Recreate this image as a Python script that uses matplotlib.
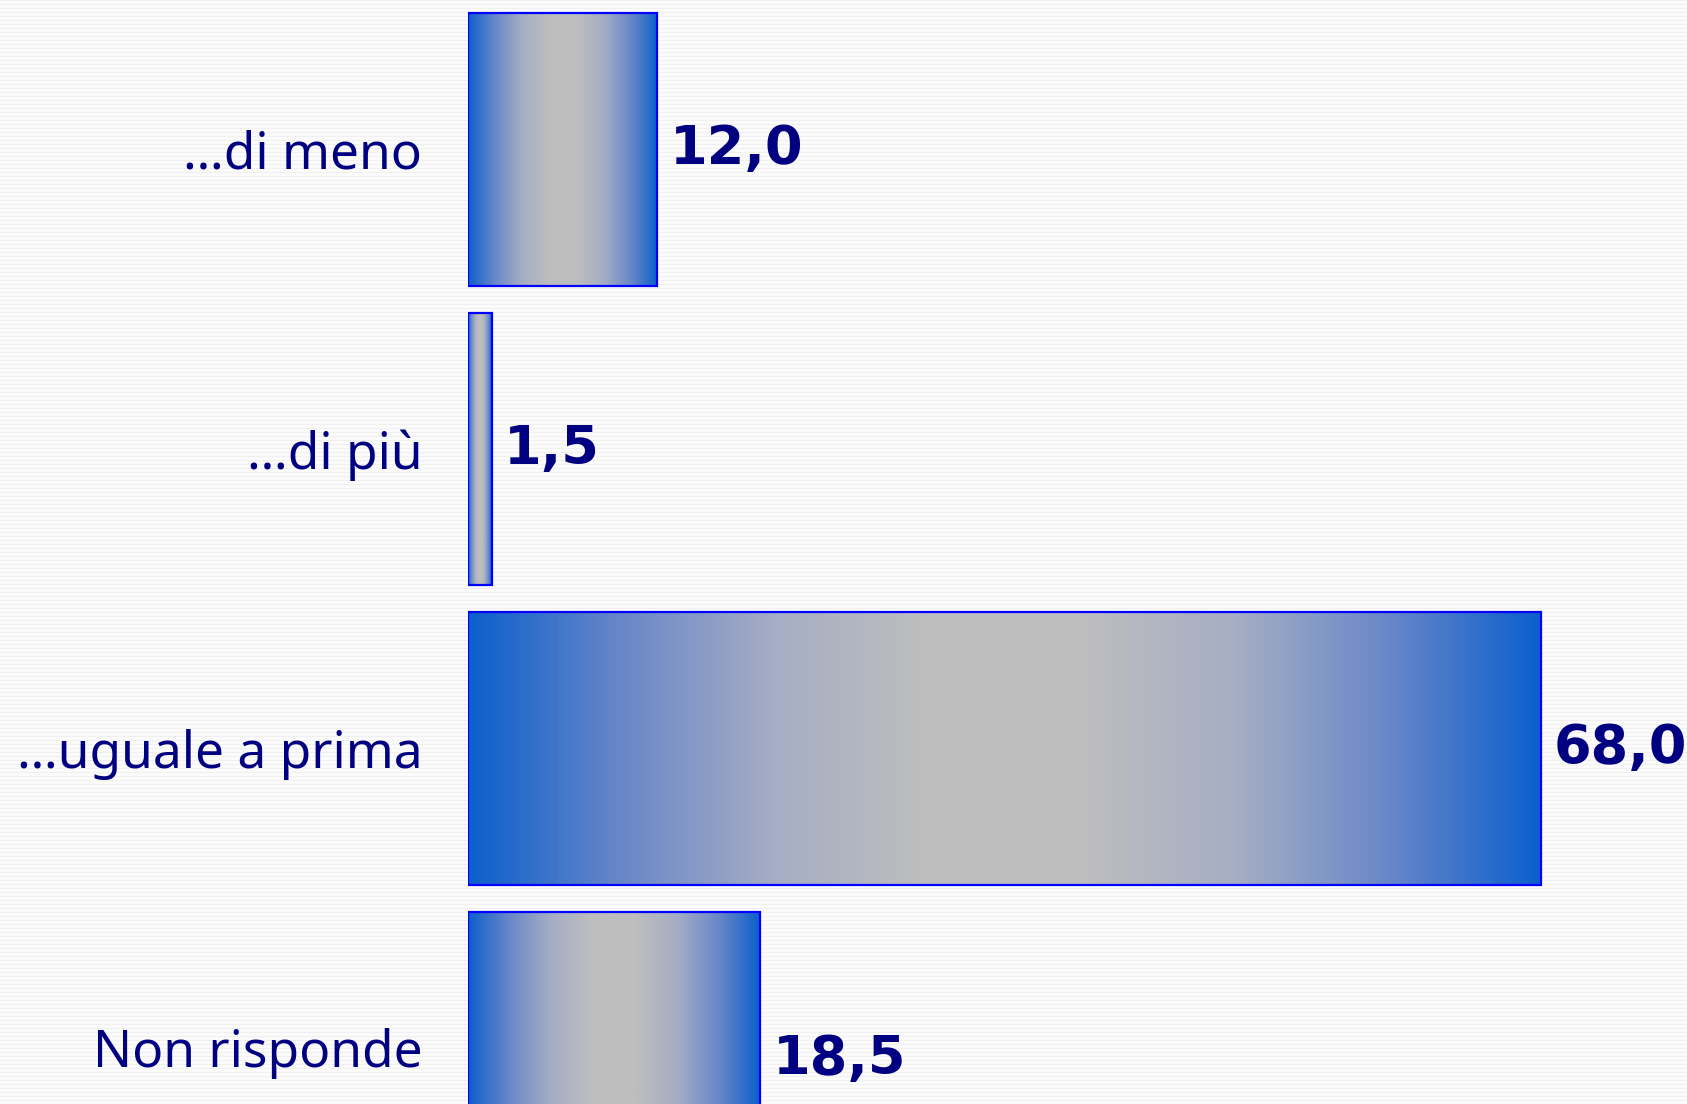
import numpy as np
import matplotlib
matplotlib.use('Agg')
from matplotlib import pyplot as plt
from matplotlib.colors import LinearSegmentedColormap

categorie = ['…di meno', '…di più', '…uguale a prima', 'Non risponde']
valori = [12.0, 1.5, 68.0, 18.5]
etichette = ['12,0', '1,5', '68,0', '18,5']

plt.rcParams['font.family'] = ['Noto Sans', 'DejaVu Sans']
NAVY = '#000080'
fig = plt.figure(figsize=(16.87, 11.04), dpi=100)
fig.patch.set_facecolor('#fbfbfb')

# tessitura di sfondo a righe orizzontali leggere
righe = np.ones((1104, 1687, 3)) * 0.985
righe[::4, :, :] = 0.945
fig.figimage(righe, 0, 0, zorder=-5)

ax = fig.add_axes([468 / 1687, 0, 1 - 468 / 1687, 1])
ax.set_zorder(2)
ax.set_facecolor('none')

sfumatura = LinearSegmentedColormap.from_list(
    'sfum', ['#0c60cc', '#6a88c8', '#a6aec4', '#bebebe', '#bebebe',
             '#a6aec4', '#6a88c8', '#0c60cc'])
grad = np.linspace(0, 1, 256).reshape(1, -1)

altezza = 0.91
barre = ax.barh(range(len(valori)), valori, height=altezza, color='none',
                edgecolor='#0000ff', linewidth=1.6, zorder=3)
for b in barre:
    x0, y0 = b.get_x(), b.get_y()
    w, h = b.get_width(), b.get_height()
    im = ax.imshow(grad, cmap=sfumatura, aspect='auto',
                   extent=[x0, x0 + w, y0 + h, y0], zorder=2,
                   interpolation='bilinear')
    im.set_clip_path(b)

ax.set_xlim(0, (1687 - 468) / 15.78)
ax.set_ylim(3.187, -0.499)

for i, (v, t) in enumerate(zip(valori, etichette)):
    dy = -8 if i == len(valori) - 1 else 0
    ax.annotate(t, (v, i), xytext=(9, dy), textcoords='offset points',
                va='center', ha='left', fontsize=39, fontweight='bold',
                color=NAVY, family='DejaVu Sans')

ax.set_yticks(range(len(categorie)))
ax.set_yticklabels(categorie, fontsize=37, color=NAVY)
ax.tick_params(axis='y', length=0, pad=33)
ax.set_xticks([])
for s in ax.spines.values():
    s.set_visible(False)

plt.savefig('out.png', dpi=100, facecolor=fig.get_facecolor())
